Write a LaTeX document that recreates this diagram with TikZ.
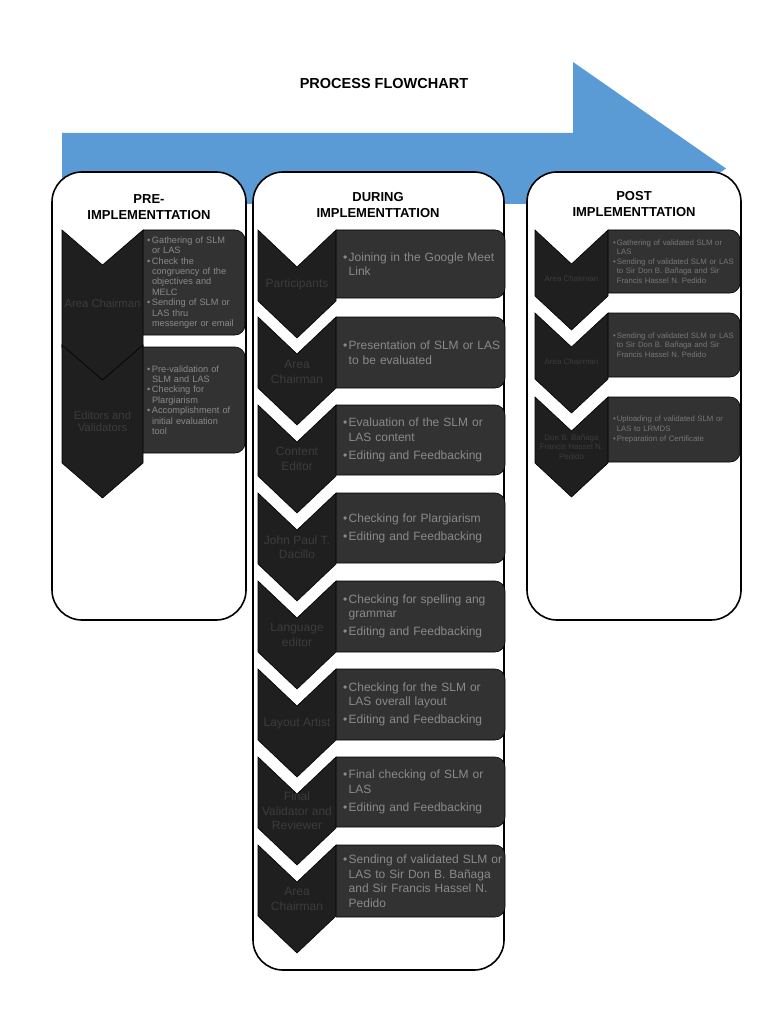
\documentclass[tikz,border=0pt]{standalone}
\usepackage{fontspec}
\setmainfont{Liberation Sans}
\definecolor{arrowblue}{HTML}{5B9BD5}
\definecolor{chevfill}{HTML}{1F1F1F}
\definecolor{boxfill}{HTML}{323232}
\definecolor{boxtext}{HTML}{8A8A8A}
\definecolor{postext}{HTML}{777777}
\definecolor{labtext}{HTML}{3C3C3C}
\newlength\bulw
\newcommand\bi[1]{\hangindent=\bulw\hangafter=1\noindent\makebox[\bulw][l]{\textbullet}#1\par}
\newcommand\Chev[5]{% cx, top, halfwidth, depth, side
  \filldraw[chev] ({#1-#3},#2) -- (#1,{#2+#4}) -- ({#1+#3},#2) -- ({#1+#3},{#2+#5}) -- (#1,{#2+#5+#4}) -- ({#1-#3},{#2+#5}) -- cycle;}
\newcommand\Bx[4]{% xl, xr, yt, yb
  \filldraw[bx] (#1,#3) -- (#2,#3) -- (#2,#4) -- (#1,#4);}
\begin{document}
\begin{tikzpicture}[x=1pt,y=-1pt,
  panel/.style={draw=black, line width=1.6pt, fill=white, rounded corners=30pt},
  chev/.style={fill=chevfill, draw=black, line width=0.6pt},
  bx/.style={fill=boxfill, draw=black, line width=0.6pt, rounded corners=10pt},
  titlest/.style={font=\fontsize{14.5}{17}\selectfont\bfseries, text=black},
  head/.style={font=\fontsize{13}{16}\selectfont\bfseries, align=center, text=black, inner sep=0pt},
  dtxt/.style={anchor=west, inner sep=0pt, text=boxtext, text width=170pt,
    font=\fontsize{12}{14.5}\selectfont\setlength\bulw{5.5pt}\setlength\parskip{3.5pt}\raggedright},
  ptxt/.style={anchor=west, inner sep=0pt, text=boxtext, text width=100pt,
    font=\fontsize{9.2}{10.4}\selectfont\setlength\bulw{4.8pt}\setlength\parskip{0pt}\raggedright},
  qtxt/.style={anchor=west, inner sep=0pt, text=postext, text width=135pt,
    font=\fontsize{7.8}{9.4}\selectfont\setlength\bulw{3.6pt}\setlength\parskip{0.5pt}\raggedright},
  dlab/.style={text=labtext, align=center, inner sep=0pt, font=\fontsize{12}{14.5}\selectfont},
  plab/.style={text=labtext, align=center, inner sep=0pt, font=\fontsize{11.3}{12}\selectfont},
  qlab/.style={text=labtext, align=center, inner sep=0pt, font=\fontsize{8}{9.8}\selectfont}
]
\useasboundingbox (0,0) rectangle (768,1024);
% big arrow
\fill[arrowblue] (62,133) -- (573,133) -- (573,62) -- (726,168.5) -- (573,275) -- (573,204) -- (62,204) -- cycle;
\node[titlest] (title) at (384,84) {PROCESS FLOWCHART};
% panels
\draw[panel] (52,172) rectangle (246,620);
\draw[panel] (253,172) rectangle (504,970);
\draw[panel] (527,172) rectangle (741,620);
\node[head] (preh) at (149,207) {PRE-\\IMPLEMENTTATION};
\node[head] (durh) at (378,205) {DURING\\IMPLEMENTTATION};
\node[head] (posth) at (634,204) {POST\\IMPLEMENTTATION};

% ---------- PRE ----------
\Bx{143}{245}{230}{335}
\Bx{143}{245}{347}{453}
\Chev{102.5}{230}{40.5}{35}{118}
\Chev{102.5}{345}{40.5}{35}{118}
\node[plab] (p1l) at (102.5,303) {Area Chairman};
\node[plab] (p2l) at (102.5,421) {Editors and\\Validators};
\node[ptxt] (p1t) at (147,282.5) {\bi{Gathering of SLM\newline or LAS}\bi{Check the\newline congruency of the\newline objectives and\newline MELC}\bi{Sending of SLM or\newline LAS thru\newline messenger or email}};
\node[ptxt] (p2t) at (147,400) {\bi{Pre-validation of\newline SLM and LAS}\bi{Checking for\newline Plargiarism}\bi{Accomplishment of\newline initial evaluation\newline tool}};

% ---------- DURING ----------
\Bx{336}{505}{230}{298}
\Bx{336}{505}{317}{388}
\Bx{336}{505}{405}{475}
\Bx{336}{505}{493}{563}
\Bx{336}{505}{581}{652}
\Bx{336}{505}{669}{740}
\Bx{336}{505}{757}{827}
\Bx{336}{505}{845}{917}
\Chev{297}{230}{39}{37}{71}
\Chev{297}{317}{39}{37}{71}
\Chev{297}{405}{39}{37}{71}
\Chev{297}{493}{39}{37}{71}
\Chev{297}{581}{39}{37}{71}
\Chev{297}{669}{39}{37}{71}
\Chev{297}{757}{39}{37}{71}
\Chev{297}{845}{39}{37}{71}
\node[dlab] (d1l) at (297,284) {Participants};
\node[dlab] (d2l) at (297,372) {Area\\Chairman};
\node[dlab] (d3l) at (297,459) {Content\\Editor};
\node[dlab] (d4l) at (297,547) {John Paul T.\\Dacillo};
\node[dlab] (d5l) at (297,635) {Language\\editor};
\node[dlab] (d6l) at (297,723) {Layout Artist};
\node[dlab] (d7l) at (297,811) {Final\\Validator and\\Reviewer};
\node[dlab] (d8l) at (297,899) {Area\\Chairman};
\node[dtxt] (d1t) at (343,264) {\bi{Joining in the Google Meet\newline Link}};
\node[dtxt] (d2t) at (343,352.5) {\bi{Presentation of SLM or LAS\newline to be evaluated}};
\node[dtxt] (d3t) at (343,440) {\bi{Evaluation of the SLM or\newline LAS content}\bi{Editing and Feedbacking}};
\node[dtxt] (d4t) at (343,528) {\bi{Checking for Plargiarism}\bi{Editing and Feedbacking}};
\node[dtxt] (d5t) at (343,616.5) {\bi{Checking for spelling ang\newline grammar}\bi{Editing and Feedbacking}};
\node[dtxt] (d6t) at (343,704.5) {\bi{Checking for the SLM or\newline LAS overall layout}\bi{Editing and Feedbacking}};
\node[dtxt] (d7t) at (343,792) {\bi{Final checking of SLM or\newline LAS}\bi{Editing and Feedbacking}};
\node[dtxt] (d8t) at (343,881) {\bi{Sending of validated SLM or\newline LAS to Sir Don B. Bañaga\newline and Sir Francis Hassel N.\newline Pedido}};

% ---------- POST ----------
\Bx{608}{740}{230}{293}
\Bx{608}{740}{313}{377}
\Bx{608}{740}{397}{462}
\Chev{571.5}{230}{36.5}{34}{66}
\Chev{571.5}{313}{36.5}{34}{66}
\Chev{571.5}{397}{36.5}{34}{66}
\node[qlab] (q1l) at (571.5,279) {Area Chairman};
\node[qlab] (q2l) at (571.5,362) {Area Chairman};
\node[qlab] (q3l) at (571.5,447) {Don B. Bañaga\\Francis Hassel N.\\Pedido};
\node[qtxt] (q1t) at (613,261.5) {\bi{Gathering of validated SLM or\newline LAS}\bi{Sending of validated SLM or LAS\newline to Sir Don B. Bañaga and Sir\newline Francis Hassel N. Pedido}};
\node[qtxt] (q2t) at (613,345) {\bi{Sending of validated SLM or LAS\newline to Sir Don B. Bañaga and Sir\newline Francis Hassel N. Pedido}};
\node[qtxt] (q3t) at (613,429.5) {\bi{Uploading of validated SLM or\newline LAS to LRMDS}\bi{Preparation of Certificate}};
\end{tikzpicture}
\end{document}
